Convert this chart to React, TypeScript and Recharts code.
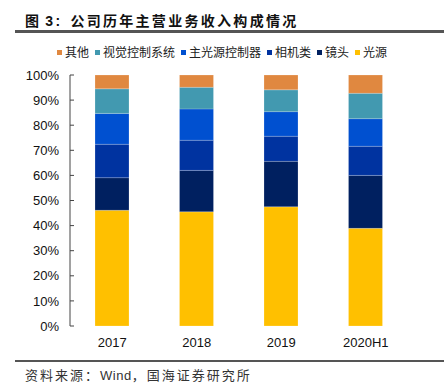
import React from 'react';
import { BarChart, Bar, XAxis, YAxis } from 'recharts';

const categories = ['2017', '2018', '2019', '2020H1'];
const guangyuan = [46.1, 45.5, 47.5, 38.9];
const jingtou = [13.0, 16.5, 18.1, 21.1];
const xiangji = [13.3, 12.0, 10.0, 11.6];
const zhuguangyuan = [12.3, 12.5, 9.8, 11.0];
const shijue = [9.8, 8.6, 8.7, 10.1];
const qita = [5.5, 4.9, 5.9, 7.3];
const yTicks = [0, 10, 20, 30, 40, 50, 60, 70, 80, 90, 100];
const boundaryTicks = [0, 1, 2, 3, 4];

const series = [
  { key: 'guangyuan', name: '光源', color: '#FFC000', values: guangyuan },
  { key: 'jingtou', name: '镜头', color: '#002060', values: jingtou },
  { key: 'xiangji', name: '相机类', color: '#0033A0', values: xiangji },
  { key: 'zhuguangyuan', name: '主光源控制器', color: '#0050D0', values: zhuguangyuan },
  { key: 'shijue', name: '视觉控制系统', color: '#4299B0', values: shijue },
  { key: 'qita', name: '其他', color: '#E08840', values: qita },
];

const data = categories.map((c, i) => {
  const row: Record<string, any> = { name: c };
  series.forEach((s) => (row[s.key] = s.values[i]));
  return row;
});

const cjk = '"Noto Sans CJK SC", "Liberation Sans", sans-serif';
const latin = '"Liberation Sans", Arial, sans-serif';

export default function App() {
  return (
    <div style={{ position: 'absolute', left: 0, top: 0, width: 444, height: 389, background: '#fff', fontFamily: cjk }}>
      <div style={{ position: 'absolute', left: 25, top: 9, fontSize: 14, fontWeight: 'bold', color: '#111', whiteSpace: 'nowrap', lineHeight: '22px', letterSpacing: 2.3 }}>
        <span>图</span>
        <span style={{ fontFamily: latin, marginLeft: 4 }}>3:</span>
        <span style={{ marginLeft: 8 }}>公司历年主营业务收入构成情况</span>
      </div>
      <div style={{ position: 'absolute', left: 15, top: 30, width: 429, height: 3, background: '#555' }} />
      <div style={{ position: 'absolute', left: 0, top: 43, width: 444, display: 'flex', justifyContent: 'center', fontSize: 12, color: '#222', lineHeight: '18px' }}>
        {[...series].reverse().map((s, i, arr) => (
          <span key={s.key} style={{ display: 'inline-flex', alignItems: 'center', marginRight: i === arr.length - 1 ? 0 : 6, whiteSpace: 'nowrap' }}>
            <span style={{ display: 'inline-block', width: 5, height: 5, background: s.color, marginRight: 3 }} />
            {s.name}
          </span>
        ))}
      </div>
      <div style={{ position: 'absolute', left: 0, top: 0 }}>
        <BarChart width={444} height={389} data={data} margin={{ top: 75, right: 36, left: 0, bottom: 33 }}>
          <XAxis
            xAxisId="bnd"
            type="number"
            dataKey={() => 0}
            domain={[0, 4]}
            ticks={boundaryTicks}
            height={0}
            tick={false}
            tickSize={-5}
            axisLine={{ stroke: '#444', strokeWidth: 1 }}
            tickLine={{ stroke: '#444' }}
          />
          <XAxis
            xAxisId="cat"
            dataKey="name"
            height={30}
            axisLine={false}
            tickLine={false}
            tickMargin={6}
            tick={{ fill: '#111', fontSize: 13, fontFamily: latin }}
          />
          <YAxis
            width={70}
            domain={[0, 100]}
            ticks={yTicks}
            tickFormatter={(v) => `${v}%`}
            tickSize={-4}
            tickMargin={15}
            interval={0}
            axisLine={{ stroke: '#444' }}
            tickLine={{ stroke: '#444' }}
            tick={{ fill: '#111', fontSize: 13, fontFamily: latin }}
          />
          {series.map((s) => (
            <Bar
              key={s.key}
              xAxisId="cat"
              dataKey={s.key}
              name={s.name}
              stackId="a"
              fill={s.color}
              stroke="#ffffff"
              strokeOpacity={0.4}
              strokeWidth={0.5}
              barSize={34}
              isAnimationActive={false}
            />
          ))}
        </BarChart>
      </div>
      <div style={{ position: 'absolute', left: 15, top: 360, width: 429, height: 2, background: '#555' }} />
      <div style={{ position: 'absolute', left: 25, top: 365, fontSize: 13, color: '#333', whiteSpace: 'nowrap', lineHeight: '20px', letterSpacing: 2 }}>
        资料来源：<span style={{ fontFamily: latin, letterSpacing: 0.5 }}>Wind</span>，国海证券研究所
      </div>
    </div>
  );
}
